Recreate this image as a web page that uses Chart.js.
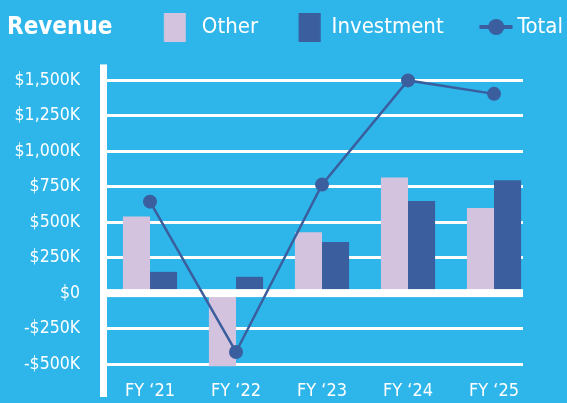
<!DOCTYPE html>
<html><head><meta charset="utf-8">
<script src="https://cdn.jsdelivr.net/npm/chart.js@4.4.0/dist/chart.umd.min.js"></script>
<style>
html,body{margin:0;padding:0;background:#2EB6EB;overflow:hidden;}
canvas{display:block;}
</style></head><body>
<canvas id="c" width="567" height="403"></canvas>
<script>
// ---- data ----
const categories = ["FY \u201821", "FY \u201822", "FY \u201823", "FY \u201824", "FY \u201825"];
const seriesNames = ["Other", "Investment", "Total"];
const otherValues = [540000, -515000, 430000, 815000, 600000];
const investmentValues = [150000, 115000, 360000, 650000, 795000];
const totalValues = [645000, -415000, 765000, 1500000, 1405000];
const yTickValues = [-500000, -250000, 0, 250000, 500000, 750000, 1000000, 1250000, 1500000];
const yTickLabels = ["-$500K", "-$250K", "$0", "$250K", "$500K", "$750K", "$1,000K", "$1,250K", "$1,500K"];
const chartTitle = "Revenue";

// ---- styles ----
const C_OTHER = '#D4C3DE';
const C_INV = '#3A5E9E';
const FONT = "'DejaVu Sans Condensed', 'DejaVu Sans', sans-serif";

function boxImage(color, w, h, offset) {
  const c = document.createElement('canvas');
  c.width = Math.round(2 * (Math.abs(offset) + w / 2));
  c.height = h;
  const g = c.getContext('2d');
  g.fillStyle = color;
  g.fillRect(c.width / 2 + offset - w / 2, 0, w, h);
  return c;
}
function lineImage(color) {
  const c = document.createElement('canvas');
  c.width = 72; c.height = 18;
  const g = c.getContext('2d');
  g.fillStyle = color;
  g.fillRect(38.5, 7, 33, 4);
  g.beginPath(); g.arc(55.25, 9, 8, 0, Math.PI * 2); g.fill();
  return c;
}
const legendImages = [boxImage(C_OTHER, 22, 29, 13.25), boxImage(C_INV, 22, 29, 18.25), lineImage(C_INV)];

const toXY = arr => arr.map((v, i) => ({x: i, y: v}));

const decorPlugin = {
  id: 'decor',
  beforeDatasetsDraw(chart) {
    const {ctx, chartArea} = chart;
    ctx.save();
    ctx.fillStyle = '#fff';
    ctx.fillRect(chartArea.left - 7, chartArea.top - 16, 7, chartArea.bottom - chartArea.top + 49);
    ctx.restore();
  },
  beforeDatasetDraw(chart, args) {
    if (args.meta.type !== 'line') return;
    const {ctx, chartArea} = chart;
    const y0 = chart.scales.y.getPixelForValue(0);
    ctx.save();
    ctx.fillStyle = '#fff';
    ctx.fillRect(chartArea.left, y0 - 4, chartArea.right - chartArea.left, 8);
    ctx.restore();
  }
};

Chart.defaults.font.family = FONT;
Chart.defaults.color = '#fff';

new Chart(document.getElementById('c'), {
  type: 'bar',
  data: {
    datasets: [
      {label: seriesNames[0], data: toXY(otherValues), backgroundColor: C_OTHER, borderWidth: 0, order: 1, clip: false,
       barPercentage: 1, categoryPercentage: 0.63},
      {label: seriesNames[1], data: toXY(investmentValues), backgroundColor: C_INV, borderWidth: 0, order: 1, clip: false,
       barPercentage: 1, categoryPercentage: 0.63},
      {type: 'line', label: seriesNames[2], data: toXY(totalValues), borderColor: C_INV, backgroundColor: C_INV,
       borderWidth: 2.5, pointRadius: 7, pointBackgroundColor: C_INV, pointBorderWidth: 0, tension: 0, order: 0, clip: false}
    ]
  },
  options: {
    responsive: false,
    animation: false,
    devicePixelRatio: 1,
    layout: {padding: {left: 7, right: 0, top: 12, bottom: 0}},
    scales: {
      x: {
        type: 'linear', min: -0.5, max: 4.337, offset: false,
        afterBuildTicks: s => { s.ticks = categories.map((_, i) => ({value: i})); },
        afterFit: s => { s.height = 39; },
        grid: {display: false, drawTicks: false, offset: false},
        border: {display: false},
        ticks: {padding: 17, color: '#fff', font: {size: 18}, maxRotation: 0, autoSkip: false,
                callback: v => categories[v]}
      },
      y: {
        type: 'linear', min: -500000, max: 1500000,
        afterBuildTicks: s => { s.ticks = yTickValues.map(v => ({value: v})); },
        afterFit: s => { s.width = 100; },
        grid: {color: '#fff', lineWidth: 3, drawTicks: false},
        border: {display: false},
        ticks: {padding: 27, color: '#fff', font: {size: 17.5},
                callback: v => yTickLabels[yTickValues.indexOf(v)]}
      },
      yR: {
        type: 'linear', position: 'right', display: true,
        afterFit: s => { s.width = 44; },
        grid: {display: false, drawTicks: false},
        border: {display: false},
        ticks: {display: false}
      }
    },
    plugins: {
      tooltip: {enabled: false},
      title: {
        display: true, text: chartTitle, align: 'start', color: '#fff', weight: 500,
        font: {size: 24, weight: 'bold', lineHeight: 1.2},
        padding: {top: -34.5, bottom: 38.1}
      },
      legend: {
        display: true, position: 'top', align: 'end',
        labels: {
          color: '#fff', font: {size: 22}, padding: 4, usePointStyle: true, pointStyleWidth: 58.5,
          generateLabels(chart) {
            const items = Chart.defaults.plugins.legend.labels.generateLabels(chart);
            items.sort((a, b) => a.datasetIndex - b.datasetIndex);
            items.forEach(it => { it.pointStyle = legendImages[it.datasetIndex]; it.fontColor = '#fff'; });
            return items;
          }
        }
      }
    }
  },
  plugins: [decorPlugin]
});
</script>
</body></html>
